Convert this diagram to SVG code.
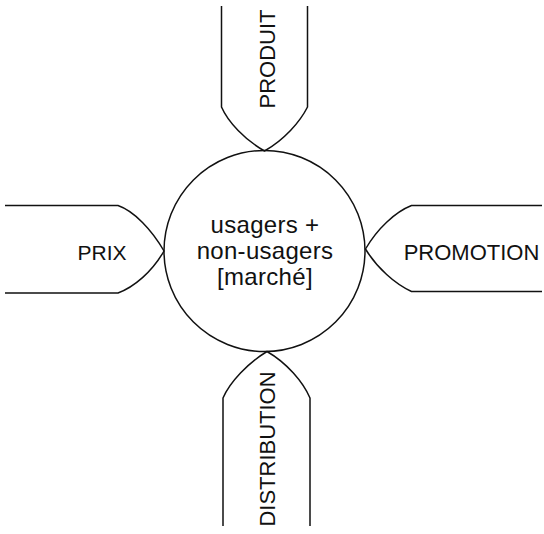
<svg xmlns="http://www.w3.org/2000/svg" width="544" height="534" viewBox="0 0 544 534">
<style>
.ln{fill:none;stroke:#111;stroke-width:1.5;stroke-linejoin:round}
.t{font-family:"Liberation Sans",Arial,sans-serif;fill:#111}
</style>
<rect width="544" height="534" fill="#fff"/>
<g id="connectors">
<path class="ln" d="M221.5,6 L221.5,107 C228,122 245,140 264.5,151 C284,140 300,122 307.5,107 L307.5,6"/>
<path class="ln" d="M5,205.5 L118,205.5 C134,211 152,230 164,251 C152,272 134,287 118,293 L5,293"/>
<path class="ln" d="M542,205.5 L411.5,205.5 C395,212 377,229 365.5,249 C377,268 395,284 411.5,291.5 L542,291.5"/>
<path class="ln" d="M223,526 L223,398 C230,382 248,363 267,351.5 C287,363 303,382 310,398 L310,526"/>
</g>
<g id="marche">
<circle class="ln" cx="264.5" cy="251" r="100.5"/>
<text class="t" font-size="24" text-anchor="middle" x="265" y="233" letter-spacing="0.3">usagers +</text>
<text class="t" font-size="24" text-anchor="middle" x="265" y="259" letter-spacing="0.3">non-usagers</text>
<text class="t" font-size="24" text-anchor="middle" x="265" y="285" letter-spacing="0.3">[marché]</text>
</g>
<g id="produit">
<text class="t" font-size="22" text-anchor="middle" transform="translate(275,59) rotate(-90)">PRODUIT</text>
</g>
<g id="prix">
<text class="t" font-size="21" text-anchor="middle" x="102" y="260">PRIX</text>
</g>
<g id="promotion">
<text class="t" font-size="22" text-anchor="middle" x="471.5" y="260">PROMOTION</text>
</g>
<g id="distribution">
<text class="t" font-size="22" text-anchor="middle" transform="translate(275,449) rotate(-90)">DISTRIBUTION</text>
</g>
</svg>
